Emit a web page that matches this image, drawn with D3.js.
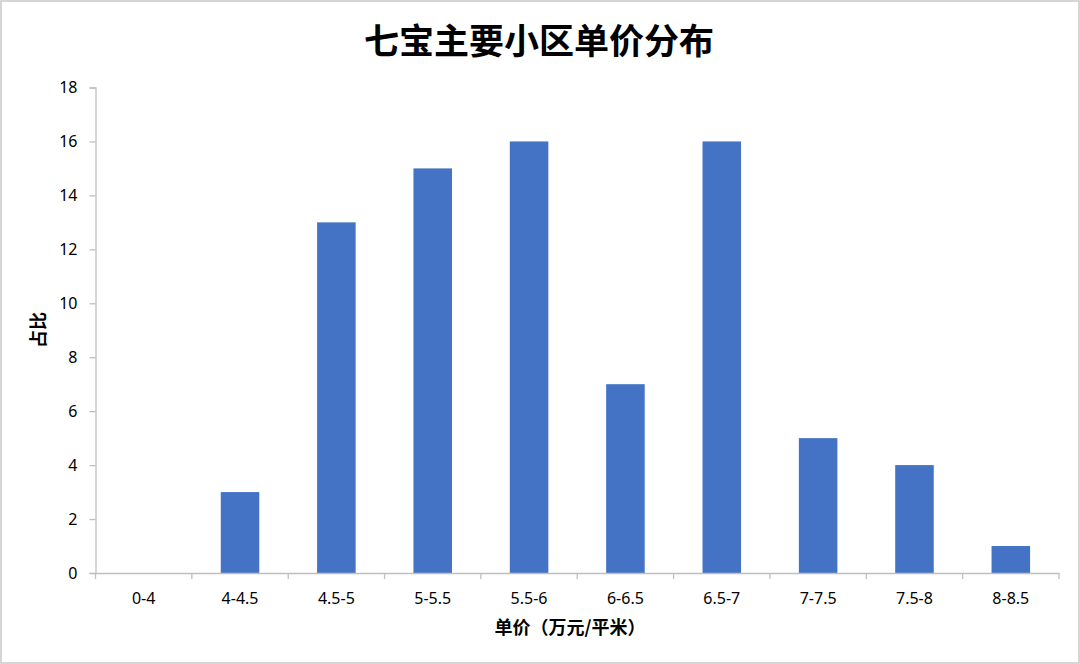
<!DOCTYPE html>
<html><head><meta charset="utf-8">
<script src="https://cdn.jsdelivr.net/npm/d3@7"></script>
<style>
html,body{margin:0;padding:0;background:#fff;}
svg{display:block;}
</style>
</head><body>
<svg id="chart" width="1080" height="664"></svg>
<script>
const categories = ["0-4","4-4.5","4.5-5","5-5.5","5.5-6","6-6.5","6.5-7","7-7.5","7.5-8","8-8.5"];
const values = [0,3,13,15,16,7,16,5,4,1];
const yTicks = [0,2,4,6,8,10,12,14,16,18];
const titleText = "七宝主要小区单价分布";
const xTitle = "单价（万元/平米）";
const yTitle = "占比";

const svg = d3.select("#chart");
const W = 1080, H = 664;
const m = {left:95.5, right:1059, top:87.5, bottom:573};

svg.append("rect").attr("x",1).attr("y",1).attr("width",W-2).attr("height",H-2)
  .attr("fill","#fff").attr("stroke","#c8c8c8").attr("stroke-width",1.5);

const x = d3.scaleBand().domain(categories).range([m.left,m.right]).paddingInner(0.6).paddingOuter(0.3);
const xb = d3.scaleBand().domain(categories).range([m.left,m.right]);
const y = d3.scaleLinear().domain([0,18]).range([m.bottom,m.top]);

svg.append("g").selectAll("rect").data(values).join("rect")
  .attr("x",(d,i)=>x(categories[i]))
  .attr("width",x.bandwidth())
  .attr("y",d=>y(d))
  .attr("height",d=>y(0)-y(d))
  .attr("fill","#4472C4");

const axisColor = "#bfbfbf";
const font = "Noto Sans, sans-serif";

// Y axis
const ya = svg.append("g").attr("transform",`translate(${m.left},0)`)
  .call(d3.axisLeft(y).tickValues(yTicks).tickSize(6).tickPadding(12));
ya.select(".domain").attr("stroke",axisColor).attr("stroke-width",1.3);
ya.selectAll(".tick line").attr("stroke",axisColor).attr("stroke-width",1.3);
ya.selectAll(".tick text").attr("font-family",font).attr("font-size",16).attr("fill","#000");

// X axis
const xa = svg.append("g").attr("transform",`translate(0,${m.bottom})`)
  .call(d3.axisBottom(xb).tickSize(0).tickPadding(20));
xa.select(".domain").attr("stroke",axisColor).attr("stroke-width",1.3);
xa.selectAll(".tick text").attr("font-family",font).attr("font-size",16).attr("fill","#000");
// boundary ticks
const bounds = categories.map(c=>xb(c)).concat([m.right]);
svg.append("g").selectAll("line").data(bounds).join("line")
  .attr("x1",d=>d).attr("x2",d=>d).attr("y1",m.bottom).attr("y2",m.bottom+6)
  .attr("stroke",axisColor).attr("stroke-width",1.3);

// Titles
svg.append("text").attr("x",539).attr("y",54).attr("text-anchor","middle")
  .attr("font-family","Noto Sans CJK SC, sans-serif").attr("font-weight","bold")
  .attr("font-size",35).attr("fill","#000").text(titleText);

svg.append("text").attr("x",570).attr("y",634).attr("text-anchor","middle")
  .attr("font-family","Noto Sans CJK SC, sans-serif").attr("font-weight","bold")
  .attr("font-size",18).attr("fill","#000").text(xTitle);

svg.append("text").attr("transform","translate(45,330) rotate(-90)").attr("text-anchor","middle")
  .attr("font-family","Noto Sans CJK SC, sans-serif").attr("font-weight","bold")
  .attr("font-size",18).attr("fill","#000").text(yTitle);
</script>
</body></html>
